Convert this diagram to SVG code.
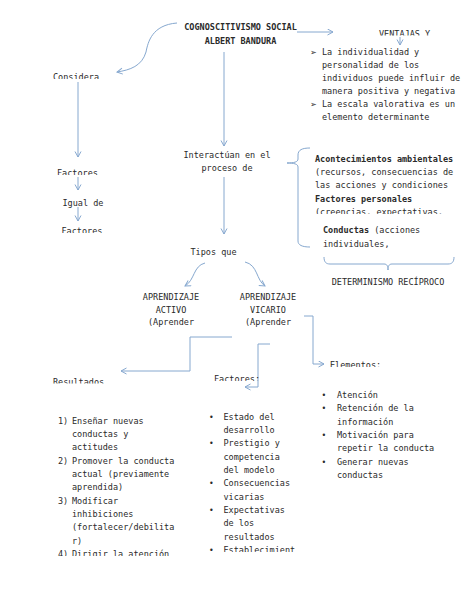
<svg xmlns="http://www.w3.org/2000/svg" width="474" height="613" viewBox="0 0 474 613">
<style>
text{font-family:"DejaVu Sans Mono","Liberation Mono",monospace;font-size:8.5px;fill:#2a2a2a}
.b{font-weight:bold}
.m{text-anchor:middle}
.bul{font-family:"DejaVu Sans","Noto Sans",sans-serif;font-size:8px}
.c{fill:none;stroke:#86a8cf;stroke-width:1}
</style>
<defs>
<marker id="ah" markerWidth="8" markerHeight="8" refX="6" refY="3.5" orient="auto" markerUnits="userSpaceOnUse">
<path d="M0.5,0.5 L6,3.5 L0.5,6.5" fill="none" stroke="#86a8cf" stroke-width="1"/>
</marker>
<clipPath id="k1"><rect x="0" y="0" width="474" height="79"/></clipPath>
<clipPath id="k2"><rect x="0" y="0" width="474" height="35.5"/></clipPath>
<clipPath id="k3"><rect x="0" y="0" width="474" height="175"/></clipPath>
<clipPath id="k4"><rect x="0" y="0" width="474" height="233"/></clipPath>
<clipPath id="k5"><rect x="0" y="0" width="474" height="214"/></clipPath>
<clipPath id="k6"><rect x="0" y="0" width="474" height="383.5"/></clipPath>
<clipPath id="k7"><rect x="0" y="0" width="474" height="381"/></clipPath>
<clipPath id="k8"><rect x="0" y="0" width="474" height="367"/></clipPath>
<clipPath id="k9"><rect x="0" y="0" width="474" height="556"/></clipPath>
<clipPath id="k10"><rect x="0" y="0" width="474" height="552"/></clipPath>
</defs>
<rect width="474" height="613" fill="#fff"/>

<g id="connectors">
<path class="c" d="M297,32 H333" marker-end="url(#ah)"/>
<path class="c" d="M400,37 V45" marker-end="url(#ah)"/>
<path class="c" d="M177,23 C152,25 148,42 146,52 C142,66 130,70 117,72" marker-end="url(#ah)"/>
<path class="c" d="M78,82 V157" marker-end="url(#ah)"/>
<path class="c" d="M78,177 V190" marker-end="url(#ah)"/>
<path class="c" d="M78,207 V221" marker-end="url(#ah)"/>
<path class="c" d="M224,52 V146" marker-end="url(#ah)"/>
<path class="c" d="M224,177 V234" marker-end="url(#ah)"/>
<path class="c" d="M310,148 C302,148 298,150 298,155 L298,159 C298,162 294,163 287,163 C294,163 298,164 298,167 L298,241 C298,245 302,247 310,247"/>
<path class="c" d="M324,257 C324,262 326,264 330,264 L384,264 C387,264 388,266 388,270 C388,266 389,264 392,264 L448,264 C452,264 454,262 454,257"/>
<path class="c" d="M205,263 C193,266 195,280 185,286" marker-end="url(#ah)"/>
<path class="c" d="M245,262 C258,265 256,280 265,286" marker-end="url(#ah)"/>
<path class="c" d="M304,316 H313 V364 H324" marker-end="url(#ah)"/>
<path class="c" d="M232,337 H190 V371 H121" marker-end="url(#ah)"/>
<path class="c" d="M270,344 H258 V387 H245" marker-end="url(#ah)"/>
</g>

<g id="title">
<text class="b m" x="240.5" y="30">COGNOSCITIVISMO SOCIAL</text>
<text class="b m" x="240.5" y="43.5">ALBERT BANDURA</text>
</g>

<g id="ventajas">
<text x="379" y="36.5" clip-path="url(#k2)">VENTAJAS Y</text>
<text class="bul" x="310" y="55">➢</text>
<text class="bul" x="310" y="107">➢</text>
<text x="322" y="55">La individualidad y<tspan x="322" dy="13">personalidad de los</tspan><tspan x="322" dy="13">individuos puede influir de</tspan><tspan x="322" dy="13">manera positiva y negativa</tspan><tspan x="322" dy="13">La escala valorativa es un</tspan><tspan x="322" dy="13">elemento determinante</tspan></text>
</g>

<g id="considera"><text x="53" y="80" clip-path="url(#k1)">Considera</text></g>
<g id="factores1"><text x="57" y="176" clip-path="url(#k3)">Factores</text></g>
<g id="igual"><text x="62.5" y="205.5">Igual de</text></g>
<g id="factores2"><text x="61.5" y="234" clip-path="url(#k4)">Factores</text></g>

<g id="interactuan">
<text class="m" x="227" y="158">Interactúan en el</text>
<text class="m" x="227" y="171">proceso de</text>
</g>

<g id="tipos"><text x="190.5" y="255">Tipos que</text></g>

<g id="triada">
<text class="b" x="315" y="161.5">Acontecimientos ambientales</text>
<text x="315" y="175">(recursos, consecuencias de</text>
<text x="315" y="188">las acciones y condiciones</text>
<text class="b" x="315" y="202">Factores personales</text>
<text x="315" y="215" clip-path="url(#k5)">(creencias, expectativas,</text>
<text x="323" y="233"><tspan class="b">Conductas</tspan> (acciones</text>
<text x="323" y="246.5">individuales,</text>
</g>

<g id="determinismo"><text class="m" x="388" y="285">DETERMINISMO RECÍPROCO</text></g>

<g id="activo">
<text class="m" x="171" y="300">APRENDIZAJE</text>
<text class="m" x="171" y="312.5">ACTIVO</text>
<text class="m" x="171" y="325">(Aprender</text>
</g>

<g id="vicario">
<text class="m" x="268" y="300">APRENDIZAJE</text>
<text class="m" x="268" y="312.5">VICARIO</text>
<text class="m" x="268" y="325">(Aprender</text>
</g>

<g id="resultados">
<text x="53" y="384.5" clip-path="url(#k6)">Resultados</text>
<text x="58" y="423.5">1)<tspan x="72">Enseñar nuevas</tspan><tspan x="72" dy="13.35">conductas y</tspan><tspan x="72" dy="13.35">actitudes</tspan><tspan x="58" dy="13.35">2)</tspan><tspan x="72">Promover la conducta</tspan><tspan x="72" dy="13.35">actual (previamente</tspan><tspan x="72" dy="13.35">aprendida)</tspan><tspan x="58" dy="13.35">3)</tspan><tspan x="72">Modificar</tspan><tspan x="72" dy="13.35">inhibiciones</tspan><tspan x="72" dy="13.35">(fortalecer/debilita</tspan><tspan x="72" dy="13.35">r)</tspan></text>
<text x="58" y="557" clip-path="url(#k9)">4)<tspan x="72">Dirigir la atención</tspan></text>
</g>

<g id="factores3">
<text x="214" y="382" clip-path="url(#k7)">Factores:</text>
<text x="223.5" y="419.5">Estado del<tspan x="223.5" dy="13.35">desarrollo</tspan><tspan x="223.5" dy="13.35">Prestigio y</tspan><tspan x="223.5" dy="13.35">competencia</tspan><tspan x="223.5" dy="13.35">del modelo</tspan><tspan x="223.5" dy="13.35">Consecuencias</tspan><tspan x="223.5" dy="13.35">vicarias</tspan><tspan x="223.5" dy="13.35">Expectativas</tspan><tspan x="223.5" dy="13.35">de los</tspan><tspan x="223.5" dy="13.35">resultados</tspan></text>
<text x="223.5" y="553" clip-path="url(#k10)">Establecimient</text>
<text class="bul" x="209" y="419.5">•</text>
<text class="bul" x="209" y="446.2">•</text>
<text class="bul" x="209" y="486.3">•</text>
<text class="bul" x="209" y="513">•</text>
<text class="bul" x="209" y="553" clip-path="url(#k10)">•</text>
</g>

<g id="elementos">
<text x="330" y="368" clip-path="url(#k8)">Elementos:</text>
<text x="337" y="398">Atención<tspan x="337" dy="13.35">Retención de la</tspan><tspan x="337" dy="13.35">información</tspan><tspan x="337" dy="13.35">Motivación para</tspan><tspan x="337" dy="13.35">repetir la conducta</tspan><tspan x="337" dy="13.35">Generar nuevas</tspan><tspan x="337" dy="13.35">conductas</tspan></text>
<text class="bul" x="321.5" y="398">•</text>
<text class="bul" x="321.5" y="411.35">•</text>
<text class="bul" x="321.5" y="438">•</text>
<text class="bul" x="321.5" y="464.7">•</text>
</g>
</svg>
